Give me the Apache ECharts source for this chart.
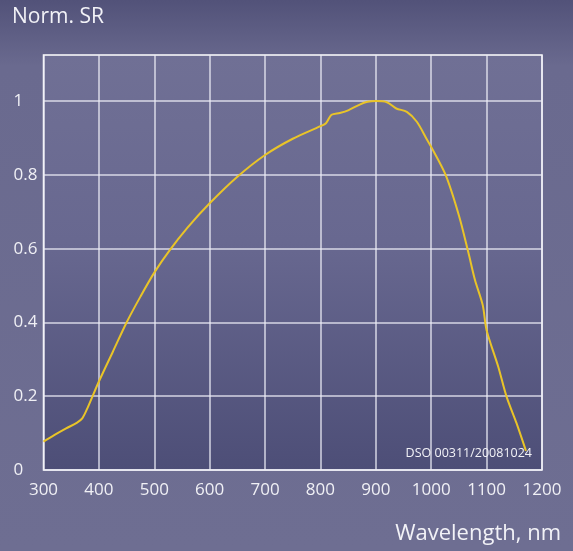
<!DOCTYPE html>
<html><head><meta charset="utf-8">
<script src="https://cdn.jsdelivr.net/npm/echarts@6/dist/echarts.min.js"></script>
<style>html,body{margin:0;padding:0;}#c{width:573px;height:551px;}</style>
</head><body><div id="c"></div>
<script>
const wavelengths = [300,320,340,360,370,380,400,425,450,475,500,528,560,600,650,700,750,800,810,820,835,850,870,885,900,920,937,956,974,993,1000,1026,1050,1067,1079,1093,1100,1121,1136,1154,1171];
const srValues = [0.077,0.095,0.112,0.128,0.14,0.17,0.24,0.32,0.40,0.47,0.535,0.596,0.657,0.723,0.795,0.854,0.898,0.932,0.94,0.963,0.968,0.975,0.99,0.998,1.0,0.997,0.98,0.971,0.944,0.894,0.876,0.80,0.69,0.59,0.515,0.447,0.379,0.28,0.199,0.127,0.052];
const yTicks = [0,0.2,0.4,0.6,0.8,1];
const yTitle = 'Norm. SR';
const xTitle = 'Wavelength, nm';
const stamp = 'DSO 00311/20081024';

const chart = echarts.init(document.getElementById('c'));
const font = '"Open Sans", sans-serif';
const gridLine = {show:true, lineStyle:{color:'rgba(235,235,245,0.85)', width:1.5}};
chart.setOption({
  animation:false,
  backgroundColor:{type:'linear',x:0,y:0,x2:0,y2:1,colorStops:[
    {offset:0,color:'#525279'},{offset:0.12,color:'#6a6a8f'},{offset:1,color:'#6e6e92'}]},
  grid:{left:43.5,right:31,top:55,bottom:81,show:true,borderColor:'#ffffff',borderWidth:1.5,
    backgroundColor:{type:'linear',x:0,y:0,x2:0,y2:1,colorStops:[
      {offset:0,color:'#707095'},{offset:0.45,color:'#686890'},{offset:1,color:'#4d4e77'}]}},
  graphic:[
    {type:'text',left:12,top:7,style:{text:yTitle,fill:'#f2f2f7',font:'21px '+font}},
    {type:'text',right:12,top:523,style:{text:xTitle,fill:'#f2f2f7',font:'22px '+font}},
    {type:'text',right:41,top:447,style:{text:stamp,fill:'#f2f2f7',font:'12.5px '+font}}
  ],
  xAxis:{type:'value',min:300,max:1200,interval:100,
    axisLine:{show:false},axisTick:{show:false},splitLine:gridLine,
    axisLabel:{color:'#f0f0f5',fontSize:17,fontFamily:font,margin:12,formatter:v=>String(v)}},
  yAxis:{type:'value',min:0,max:1.125,
    axisLine:{show:false},axisTick:{show:false},
    splitLine:{show:false},
    axisLabel:{show:false}},
  series:[
    {type:'line',data:wavelengths.map((w,i)=>[w,srValues[i]]),smooth:0.3,symbol:'none',
     lineStyle:{color:'#e9c428',width:2},z:5},
    {type:'line',data:[],markLine:{silent:true,symbol:'none',
      label:{show:true,position:'start',formatter:p=>String(p.value),color:'#f0f0f5',fontSize:17,fontFamily:font,align:'left',distance:[30,0]},
      lineStyle:{color:'rgba(235,235,245,0.85)',width:1.5,type:'solid'},
      data:yTicks.map(v=>({yAxis:v}))}}
  ]
});
</script></body></html>
